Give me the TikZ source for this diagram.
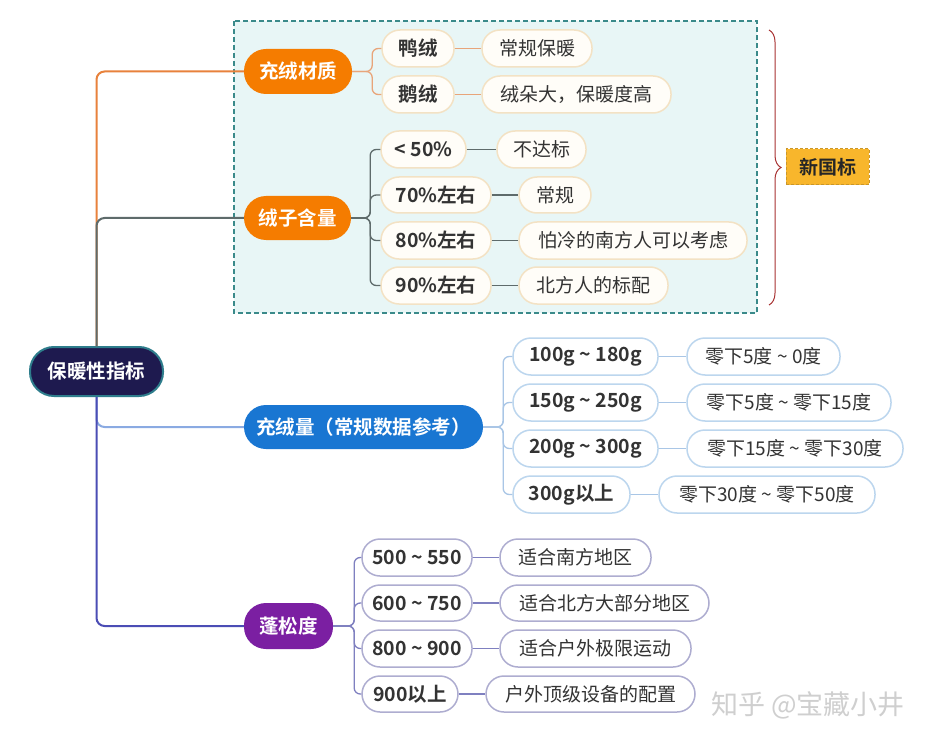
\documentclass[tikz,border=0pt]{standalone}
\usepackage{fontspec}
\setmainfont{Noto Sans CJK SC}[BoldFont={Noto Sans CJK SC Bold}]
\usetikzlibrary{decorations.pathreplacing}
\definecolor{orangeMain}{HTML}{F57C00}
\definecolor{orangeLine}{HTML}{E8823C}
\definecolor{orangeLight}{HTML}{E8A57A}
\definecolor{blueMain}{HTML}{1976D2}
\definecolor{blueLine}{HTML}{8AAAE2}
\definecolor{blueLight}{HTML}{A9C6E6}
\definecolor{blueBorder}{HTML}{BCD6EE}
\definecolor{purpleMain}{HTML}{7B1FA2}
\definecolor{indigoLine}{HTML}{4B4DB5}
\definecolor{lavLine}{HTML}{7F80C0}
\definecolor{lavBorder}{HTML}{AEADD0}
\definecolor{rootFill}{HTML}{1E1A4F}
\definecolor{rootBorder}{HTML}{2E7D8C}
\definecolor{greyLine}{HTML}{5E6B6B}
\definecolor{groupFill}{HTML}{E8F6F6}
\definecolor{groupBorder}{HTML}{3A8A8A}
\definecolor{creamFill}{HTML}{FFFDF8}
\definecolor{creamBorder}{HTML}{F3E2C4}
\definecolor{txt}{HTML}{333333}
\definecolor{braceCol}{HTML}{A83232}
\definecolor{tagFill}{HTML}{F8B62C}
\definecolor{tagBorder}{HTML}{C9962A}
\definecolor{wm}{HTML}{CFCFCF}
\newcommand\mmbox[7]{\node[#6,minimum width={(#4-#2)*1pt},minimum height={(#5-#3)*1pt}] (#1) at ({(#2+#4)/2},{(#3+#5)/2}) {#7};}
\tikzset{
  base/.style={inner sep=0pt,align=center,text=txt},
  mainnode/.style={base,rounded corners=22pt,text=white,font=\fontsize{19.5}{21}\selectfont\bfseries},
  rootnode/.style={mainnode,fill=rootFill,draw=rootBorder,line width=2pt,rounded corners=24pt},
  kid/.style={base,rounded corners=18pt,line width=1.5pt,font=\fontsize{19.5}{21}\selectfont\bfseries},
  leaf/.style={base,rounded corners=18pt,line width=1.5pt,font=\fontsize{19}{21}\selectfont},
  creamkid/.style={kid,fill=creamFill,draw=creamBorder},
  creamleaf/.style={leaf,fill=creamFill,draw=creamBorder},
  bluekid/.style={kid,fill=white,draw=blueBorder},
  blueleaf/.style={leaf,fill=white,draw=blueBorder},
  lavkid/.style={kid,fill=white,draw=lavBorder},
  lavleaf/.style={leaf,fill=white,draw=lavBorder},
  branch/.style={line width=2pt,rounded corners=8pt},
  sub/.style={line width=1.3pt,rounded corners=6pt},
}
\begin{document}
\begin{tikzpicture}[x=1pt,y=-1pt]
\useasboundingbox[fill=white] (0,0) rectangle (933,743);
% group box
\draw[fill=groupFill,draw=groupBorder,line width=1.5pt,dash pattern=on 5pt off 3pt] (234,21) rectangle (757,313);
% brace
\draw[braceCol,line width=1pt,decorate,decoration={brace,amplitude=12pt}] (769,30) -- (769,305);
\mmbox{tag}{786}{149}{869}{185}{base,fill=tagFill,draw=tagBorder,line width=1pt,dash pattern=on 3pt off 2pt,font=\fontsize{19}{21}\selectfont\bfseries,text=black!85}{新国标}

% main nodes
\mmbox{root}{30}{347}{163}{396}{rootnode}{保暖性指标}
\mmbox{cz}{244}{49}{352}{94}{mainnode,fill=orangeMain}{充绒材质}
\mmbox{rz}{244}{196}{351}{240}{mainnode,fill=orangeMain}{绒子含量}
\mmbox{cl}{244}{405}{483}{449}{mainnode,fill=blueMain}{充绒量（常规数据参考）}
\mmbox{pf}{244}{603}{333}{649}{mainnode,fill=purpleMain}{蓬松度}

% group 1
\mmbox{ya}{382}{30}{454}{67}{creamkid}{鸭绒}
\mmbox{e}{382}{76}{454}{113}{creamkid}{鹅绒}
\mmbox{ya2}{482}{30}{592}{67}{creamleaf}{常规保暖}
\mmbox{e2}{482}{76}{671}{113}{creamleaf}{绒朵大，保暖度高}
% group 2
\mmbox{r1}{381}{131}{466}{168}{creamkid}{< 50\%}
\mmbox{r2}{381}{177}{491}{213}{creamkid}{70\%左右}
\mmbox{r3}{381}{222}{491}{259}{creamkid}{80\%左右}
\mmbox{r4}{381}{267}{491}{304}{creamkid}{90\%左右}
\mmbox{r1b}{497}{131}{586}{168}{creamleaf}{不达标}
\mmbox{r2b}{519}{177}{591}{213}{creamleaf}{常规}
\mmbox{r3b}{519}{222}{747}{259}{creamleaf}{怕冷的南方人可以考虑}
\mmbox{r4b}{519}{267}{668}{304}{creamleaf}{北方人的标配}
% group 3
\mmbox{c1}{513}{338}{658}{375}{bluekid}{100g \textasciitilde{} 180g}
\mmbox{c2}{513}{384}{658}{421}{bluekid}{150g \textasciitilde{} 250g}
\mmbox{c3}{513}{430}{658}{467}{bluekid}{200g \textasciitilde{} 300g}
\mmbox{c4}{513}{476}{630}{513}{bluekid}{300g以上}
\mmbox{c1b}{687}{338}{840}{375}{blueleaf}{零下5度 \textasciitilde{} 0度}
\mmbox{c2b}{687}{384}{891}{421}{blueleaf}{零下5度 \textasciitilde{} 零下15度}
\mmbox{c3b}{687}{430}{903}{467}{blueleaf}{零下15度 \textasciitilde{} 零下30度}
\mmbox{c4b}{659}{476}{875}{513}{blueleaf}{零下30度 \textasciitilde{} 零下50度}
% group 4
\mmbox{p1}{362}{539}{472}{576}{lavkid}{500 \textasciitilde{} 550}
\mmbox{p2}{362}{585}{472}{621}{lavkid}{600 \textasciitilde{} 750}
\mmbox{p3}{362}{630}{472}{667}{lavkid}{800 \textasciitilde{} 900}
\mmbox{p4}{362}{676}{458}{712}{lavkid}{900以上}
\mmbox{p1b}{500}{539}{651}{576}{lavleaf}{适合南方地区}
\mmbox{p2b}{500}{585}{709}{621}{lavleaf}{适合北方大部分地区}
\mmbox{p3b}{500}{630}{691}{667}{lavleaf}{适合户外极限运动}
\mmbox{p4b}{486}{676}{695}{712}{lavleaf}{户外顶级设备的配置}

% main branches
\draw[branch,orangeLine] (root.north) |- (cz.west);
\draw[branch,greyLine] (root.north) |- (rz.west);
\draw[branch,blueLine] (root.south) |- (cl.west);
\draw[branch,indigoLine] (root.south) |- (pf.west);

% sub connectors
\foreach \k in {ya,e}{\draw[sub,orangeLight] (cz.east) -- ([xshift=20pt]cz.east) |- (\k.west);}
\draw[sub,orangeLight] (ya.east) -- (ya2.west);
\draw[sub,orangeLight] (e.east) -- (e2.west);
\foreach \k in {r1,r2,r3,r4}{\draw[sub,greyLine] (rz.east) -- ([xshift=19pt]rz.east) |- (\k.west); \draw[sub,greyLine] (\k.east) -- (\k b.west);}
\foreach \k in {c1,c2,c3,c4}{\draw[sub,blueLight] (cl.east) -- ([xshift=20pt]cl.east) |- (\k.west); \draw[sub,blueLight] (\k.east) -- (\k b.west);}
\foreach \k in {p1,p2,p3,p4}{\draw[sub,lavLine] (pf.east) -- ([xshift=21pt]pf.east) |- (\k.west); \draw[sub,lavLine] (\k.east) -- (\k b.west);}

% watermark
\node[text=wm,font=\fontsize{27}{29}\selectfont,inner sep=0pt] (wm) at (808,705) {知乎 @宝藏小井};
\end{tikzpicture}
\end{document}
